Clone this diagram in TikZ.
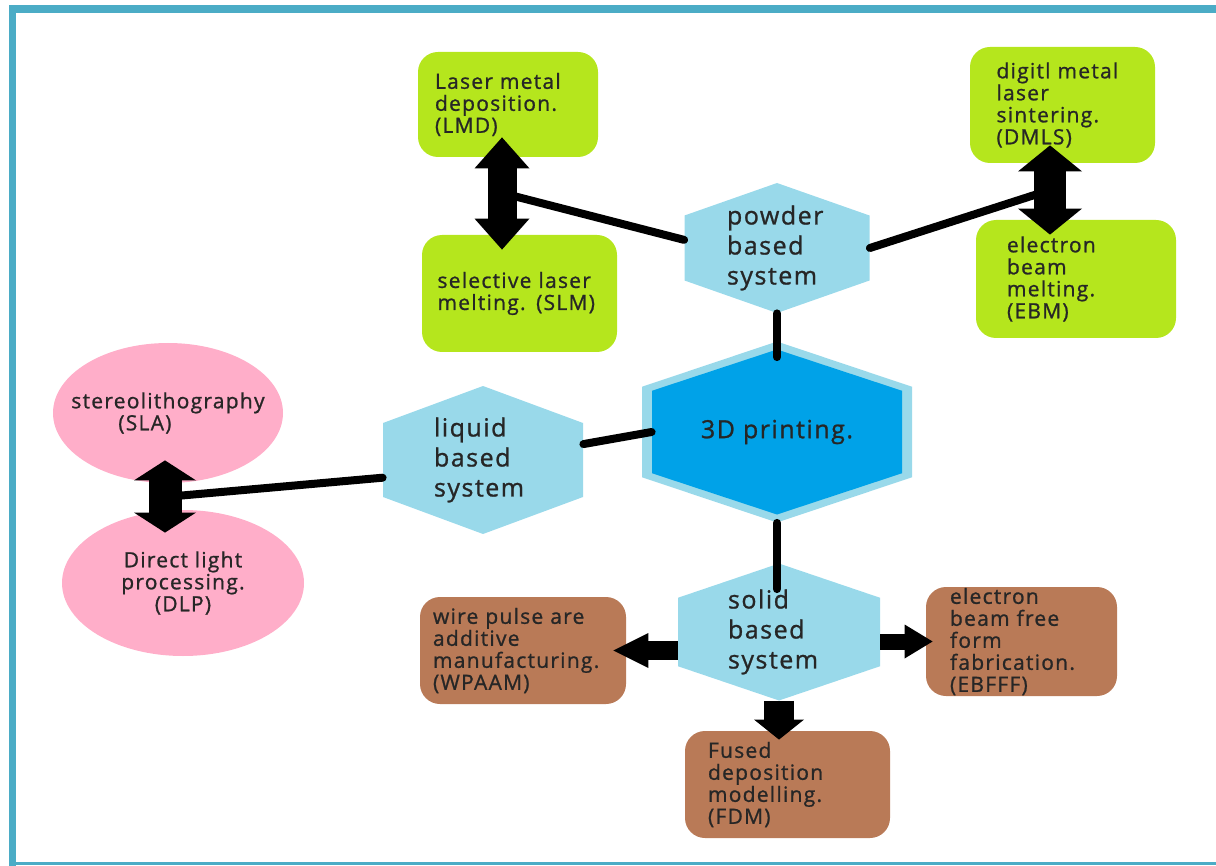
\documentclass[tikz,border=0pt]{standalone}
\usepackage{fontspec}
\setmainfont{Open Sans}[LetterSpace=6,FakeBold=1]
\usetikzlibrary{calc,arrows.meta,shapes.geometric}
\definecolor{framecol}{HTML}{4BACC6}
\definecolor{limecol}{HTML}{B5E61D}
\definecolor{turqcol}{HTML}{99D9EA}
\definecolor{bluecol}{HTML}{00A2E8}
\definecolor{pinkcol}{HTML}{FFAEC9}
\definecolor{browncol}{HTML}{B97A57}

\begin{document}
\begin{tikzpicture}[x=.5pt,y=-.5pt,
  box/.style={text=black!85,font=\fontsize{10.5}{11}\selectfont,align=left,
   rounded corners=10pt,inner sep=0pt},
  ell/.style={ellipse,fill=pinkcol,text=black!85,font=\fontsize{10.5}{11}\selectfont,
   align=center,inner sep=0pt},
  hexnode/.style={inner sep=0pt,text=black!85,font=\fontsize{12.5}{15}\selectfont,
   align=left,path picture={
    \fill[#1] (path picture bounding box.north)
     -- ($(path picture bounding box.north east)!.25!(path picture bounding box.south east)$)
     -- ($(path picture bounding box.north east)!.75!(path picture bounding box.south east)$)
     -- (path picture bounding box.south)
     -- ($(path picture bounding box.north west)!.75!(path picture bounding box.south west)$)
     -- ($(path picture bounding box.north west)!.25!(path picture bounding box.south west)$)
     -- cycle;}},
  link/.style={line width=4pt,line cap=round},
  dbl/.style n args={3}{line width=#1,
   arrows={Triangle[length=#2,width=#3,line width=0pt]-Triangle[length=#2,width=#3,line width=0pt]}},
  sgl/.style n args={3}{line width=#1,
   arrows={-Triangle[length=#2,width=#3,line width=0pt]}}]
 \useasboundingbox (0,0) rectangle (1216,866);
 \fill[framecol] (9,5) rectangle (1216,13);
 \fill[framecol] (9,5) rectangle (16,866);
 \fill[framecol] (9,862) rectangle (1216,865);

 \node[box,fill=limecol,minimum width=90pt,minimum height=52.5pt,text width=73pt]
  (lmd) at (508,104.5) {Laser metal\\deposition.\\(LMD)};
 \node[box,fill=limecol,minimum width=97.5pt,minimum height=58.5pt,text width=82pt]
  (slm) at (519.5,293.5) {selective laser\\melting. (SLM)};
 \node[box,fill=limecol,minimum width=92.5pt,minimum height=58pt,text width=66pt]
  (dmls) at (1062.5,105) {digitl metal\\laser\\sintering.\\(DMLS)};
 \node[box,fill=limecol,minimum width=100pt,minimum height=59pt,text width=69pt]
  (ebm) at (1076,279) {electron\\beam\\melting.\\(EBM)};
 \node[box,fill=browncol,minimum width=103pt,minimum height=53.5pt,text width=90pt]
  (wpaam) at (523,650.5) {wire pulse are\\additive\\manufacturing.\\(WPAAM)};
 \node[box,fill=browncol,minimum width=102.5pt,minimum height=53.5pt,text width=79.5pt]
  (fdm) at (787.5,784.5) {Fused\\deposition\\modelling.\\(FDM)};
 \node[box,fill=browncol,minimum width=95.5pt,minimum height=54.5pt,text width=71.5pt]
  (ebfff) at (1021.5,641.5) {electron\\beam free\\form\\fabrication.\\(EBFFF)};

 \node[ell,minimum width=115pt,minimum height=70pt]
  (sla) at (168,413) {\makebox[0pt]{stereolithography}\\
   \makebox[0pt]{(SLA)\hspace*{2.2em}}};
 \node[ell,minimum width=121pt,minimum height=73pt]
  (dlp) at (183,583) {Direct light\\processing.\\(DLP)};

 \node[hexnode=turqcol,minimum width=92.5pt,minimum height=65pt,text width=50pt]
  (powder) at (777,248) {powder\\based\\system};
 \node[hexnode=turqcol,minimum width=100pt,minimum height=74pt,text width=49pt]
  (liquid) at (483,460) {liquid\\based\\system};
 \node[hexnode=turqcol,minimum width=101pt,minimum height=68.5pt,text width=51pt]
  (solid) at (779,632) {solid\\based\\system};
 \node[hexnode=turqcol,minimum width=135pt,minimum height=90.5pt]
  (rim) at (777,432) {};
 \node[hexnode=bluecol,minimum width=125pt,minimum height=82.5pt,align=center]
  (print) at (777,432) {3D printing.};

 \coordinate (ls) at (502,193);
 \coordinate (de) at (1050,190);
 \coordinate (sd) at (165,497);

 \draw[link] (powder.175) -- (ls);
 \draw[link] (powder.east) -- (de);
 \draw[link,shorten >=-4pt] (powder.south) -- (print.north);
 \draw[link] (liquid.9) -- (print.west);
 \draw[link] (liquid.190) -- (sd);
 \draw[link,shorten >=-13pt] (rim.south) -- (rim.south |- solid.north);

 \draw[dbl={14.5pt}{15.5pt}{27.5pt},shorten <=-10pt,shorten >=-7.5pt]
  (ls |- lmd.south) -- (ls |- slm.north);
 \draw[dbl={16pt}{13pt}{32pt},shorten <=-9pt,shorten >=-7.5pt]
  (de |- dmls.south) -- (de |- ebm.north);
 \draw[dbl={16.5pt}{10pt}{31pt},shorten <=-11.5pt,shorten >=-11.5pt]
  (sd |- sla.south) -- (sd |- dlp.north);
 \draw[sgl={9.5pt}{17.5pt}{17.5pt},shorten >=-6.5pt]
  (solid.west |- wpaam) -- (wpaam.east);
 \draw[sgl={8pt}{14pt}{17pt},shorten >=-3.5pt]
  (solid.east |- ebfff) -- (ebfff.west);
 \draw[sgl={15pt}{10pt}{25pt},shorten >=-4.5pt]
  (solid.south) -- (solid.south |- fdm.north);
\end{tikzpicture}
\end{document}
